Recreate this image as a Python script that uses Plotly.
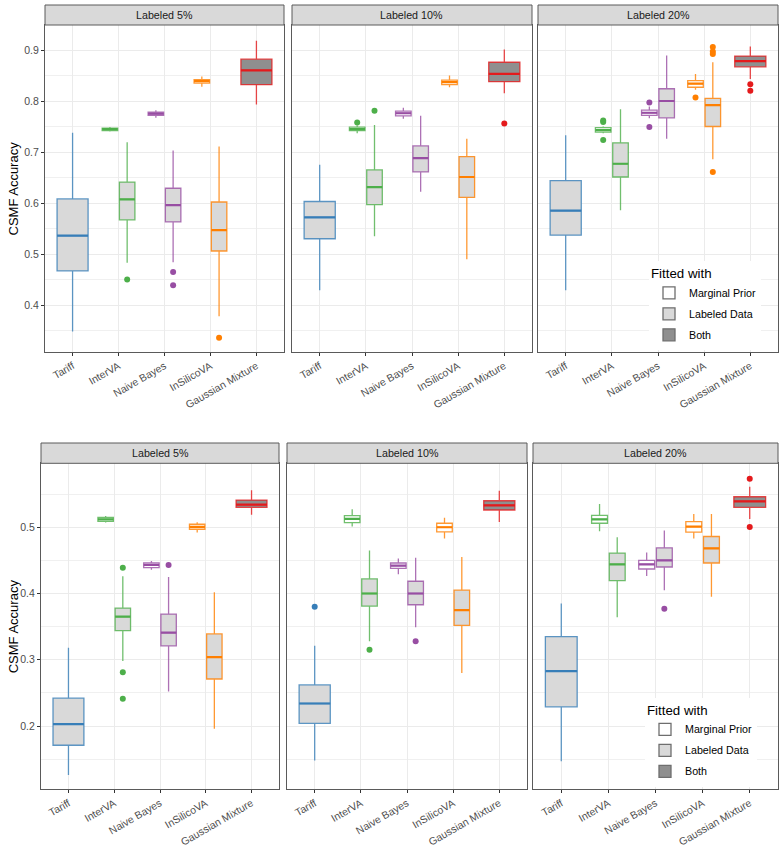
import plotly.graph_objects as go

# ---------------- data ----------------
METHODS = ["Tariff", "InterVA", "Naive Bayes", "InSilicoVA", "Gaussian Mixture"]
METHOD_COLORS = ["#377EB8", "#4DAF4A", "#984EA3", "#FF7F00", "#E41A1C"]
FITS = ["Marginal Prior", "Labeled Data", "Both"]
FIT_FILLS = ["#FFFFFF", "#D9D9D9", "#8F8F8F"]
PANELS = ["Labeled 5%", "Labeled 10%", "Labeled 20%"]
Y_TITLE = "CSMF Accuracy"

# one entry per box, same order in every panel
BOX_METHOD = ["Tariff", "InterVA", "InterVA", "Naive Bayes", "Naive Bayes",
              "InSilicoVA", "InSilicoVA", "Gaussian Mixture"]
BOX_FIT = ["Labeled Data", "Marginal Prior", "Labeled Data", "Marginal Prior",
           "Labeled Data", "Marginal Prior", "Labeled Data", "Both"]

# ---- top row ----
TOP_05_LO  = [0.348, 0.740, 0.483, 0.767, 0.484, 0.828, 0.378, 0.793]
TOP_05_Q1  = [0.467, 0.742, 0.567, 0.772, 0.563, 0.835, 0.506, 0.832]
TOP_05_MED = [0.536, 0.745, 0.607, 0.775, 0.596, 0.839, 0.547, 0.860]
TOP_05_Q3  = [0.608, 0.747, 0.641, 0.778, 0.629, 0.842, 0.602, 0.882]
TOP_05_HI  = [0.738, 0.749, 0.719, 0.782, 0.703, 0.848, 0.711, 0.918]
TOP_05_OUT = [[], [], [0.450], [], [0.465, 0.439], [], [0.336], []]

TOP_10_LO  = [0.429, 0.737, 0.535, 0.765, 0.622, 0.827, 0.490, 0.815]
TOP_10_Q1  = [0.530, 0.742, 0.597, 0.771, 0.661, 0.832, 0.611, 0.838]
TOP_10_MED = [0.572, 0.745, 0.631, 0.776, 0.688, 0.837, 0.651, 0.853]
TOP_10_Q3  = [0.603, 0.749, 0.665, 0.780, 0.712, 0.841, 0.691, 0.876]
TOP_10_HI  = [0.675, 0.752, 0.753, 0.787, 0.771, 0.850, 0.726, 0.901]
TOP_10_OUT = [[], [0.758], [0.781], [], [], [], [], [0.756]]

TOP_20_LO  = [0.429, 0.737, 0.586, 0.766, 0.726, 0.822, 0.686, 0.843]
TOP_20_Q1  = [0.537, 0.739, 0.651, 0.772, 0.767, 0.827, 0.750, 0.867]
TOP_20_MED = [0.585, 0.743, 0.677, 0.777, 0.800, 0.834, 0.792, 0.878]
TOP_20_Q3  = [0.644, 0.748, 0.718, 0.782, 0.824, 0.840, 0.805, 0.888]
TOP_20_HI  = [0.733, 0.750, 0.784, 0.789, 0.889, 0.853, 0.876, 0.907]
TOP_20_OUT = [[], [0.762, 0.759, 0.7235], [], [0.797, 0.749], [], [0.807],
              [0.906, 0.897, 0.892, 0.661], [0.833, 0.820]]

# ---- bottom row ----
BOT_05_LO  = [0.126, 0.507, 0.298, 0.436, 0.252, 0.492, 0.196, 0.519]
BOT_05_Q1  = [0.171, 0.509, 0.344, 0.439, 0.321, 0.497, 0.271, 0.530]
BOT_05_MED = [0.203, 0.512, 0.365, 0.443, 0.341, 0.5005, 0.304, 0.534]
BOT_05_Q3  = [0.242, 0.515, 0.378, 0.446, 0.369, 0.5045, 0.339, 0.541]
BOT_05_HI  = [0.318, 0.517, 0.426, 0.449, 0.425, 0.5075, 0.402, 0.556]
BOT_05_OUT = [[], [], [0.439, 0.281, 0.241], [], [0.443], [], [], []]

BOT_10_LO  = [0.148, 0.501, 0.328, 0.429, 0.349, 0.483, 0.280, 0.508]
BOT_10_Q1  = [0.204, 0.507, 0.381, 0.438, 0.383, 0.493, 0.352, 0.526]
BOT_10_MED = [0.234, 0.5125, 0.400, 0.442, 0.400, 0.500, 0.375, 0.533]
BOT_10_Q3  = [0.262, 0.5175, 0.422, 0.446, 0.4185, 0.506, 0.405, 0.540]
BOT_10_HI  = [0.321, 0.527, 0.465, 0.453, 0.454, 0.5145, 0.455, 0.555]
BOT_10_OUT = [[0.380], [], [0.315], [], [0.328], [], [], []]

BOT_20_LO  = [0.147, 0.494, 0.364, 0.4265, 0.405, 0.483, 0.395, 0.5125]
BOT_20_Q1  = [0.229, 0.506, 0.4195, 0.437, 0.440, 0.4925, 0.446, 0.530]
BOT_20_MED = [0.283, 0.512, 0.444, 0.444, 0.450, 0.501, 0.468, 0.539]
BOT_20_Q3  = [0.335, 0.518, 0.461, 0.450, 0.469, 0.5085, 0.486, 0.546]
BOT_20_HI  = [0.385, 0.535, 0.485, 0.462, 0.495, 0.520, 0.520, 0.561]
BOT_20_OUT = [[], [], [], [], [0.377], [], [], [0.573, 0.5005]]

ROWS = [
    [(TOP_05_LO, TOP_05_Q1, TOP_05_MED, TOP_05_Q3, TOP_05_HI, TOP_05_OUT),
     (TOP_10_LO, TOP_10_Q1, TOP_10_MED, TOP_10_Q3, TOP_10_HI, TOP_10_OUT),
     (TOP_20_LO, TOP_20_Q1, TOP_20_MED, TOP_20_Q3, TOP_20_HI, TOP_20_OUT)],
    [(BOT_05_LO, BOT_05_Q1, BOT_05_MED, BOT_05_Q3, BOT_05_HI, BOT_05_OUT),
     (BOT_10_LO, BOT_10_Q1, BOT_10_MED, BOT_10_Q3, BOT_10_HI, BOT_10_OUT),
     (BOT_20_LO, BOT_20_Q1, BOT_20_MED, BOT_20_Q3, BOT_20_HI, BOT_20_OUT)],
]

# ---------------- layout geometry (pixels) ----------------
W, H = 782, 848
FONT = "Liberation Sans, Arial, Helvetica, sans-serif"
PANEL_X = [[(45, 284), (292, 532), (538, 778)],
           [(41, 279), (287, 527), (533, 778)]]
PANEL_Y = [(25, 352), (463.3, 789.3)]
STRIP_Y = [(5, 25), (443, 463.3)]
Y_RANGES = [[0.308, 0.949], [0.1045, 0.5965]]
LEGEND_POS = [(649, 261), (645, 697.5)]

BOX_WIDTH = 0.75
DODGE_PAD = 0.1


def px_x(x):
    return x / W


def px_y(y):
    return 1 - y / H


def rgba(hexc, a):
    h = hexc.lstrip("#")
    return "rgba(%d,%d,%d,%.2f)" % (int(h[0:2], 16), int(h[2:4], 16), int(h[4:6], 16), a)


# dodge positions (like ggplot position_dodge2)
positions, widths = [], []
for i, m in enumerate(BOX_METHOD):
    grp = [j for j, mm in enumerate(BOX_METHOD) if mm == m]
    n = len(grp)
    k = grp.index(i)
    slot = BOX_WIDTH / n
    positions.append(METHODS.index(m) + 1 - BOX_WIDTH / 2 + slot * (k + 0.5))
    widths.append(slot * (1 - DODGE_PAD))

fig = go.Figure()
layout = dict(
    width=W, height=H, margin=dict(l=0, r=0, t=0, b=0),
    paper_bgcolor="white", plot_bgcolor="white",
    font=dict(family=FONT, color="#1A1A1A"),
    boxmode="overlay", showlegend=True,
)
shapes, annotations = [], []

for r, row in enumerate(ROWS):
    for c, stats in enumerate(row):
        idx = r * 3 + c + 1
        xa = "x" if idx == 1 else "x%d" % idx
        ya = "y" if idx == 1 else "y%d" % idx
        lo, q1, med, q3, hi, out = stats
        for i in range(len(BOX_METHOD)):
            col = METHOD_COLORS[METHODS.index(BOX_METHOD[i])]
            fill = FIT_FILLS[FITS.index(BOX_FIT[i])]
            fig.add_trace(go.Box(
                x=[positions[i]], q1=[q1[i]], median=[med[i]], q3=[q3[i]],
                lowerfence=[lo[i]], upperfence=[hi[i]], width=widths[i],
                fillcolor=fill, line=dict(color=rgba(col, 0.8), width=1.3),
                whiskerwidth=0, boxpoints=False, showlegend=False,
                hoverinfo="skip", xaxis=xa, yaxis=ya))
            # thicker median line
            fig.add_trace(go.Box(
                x=[positions[i]], q1=[med[i]], median=[med[i]], q3=[med[i]],
                lowerfence=[med[i]], upperfence=[med[i]], width=widths[i],
                fillcolor="rgba(0,0,0,0)", line=dict(color=col, width=2.2),
                whiskerwidth=0, boxpoints=False, showlegend=False,
                hoverinfo="skip", xaxis=xa, yaxis=ya))
            if out[i]:
                fig.add_trace(go.Scatter(
                    x=[positions[i]] * len(out[i]), y=out[i], mode="markers",
                    marker=dict(color=col, size=6), showlegend=False,
                    hoverinfo="skip", xaxis=xa, yaxis=ya))

        x0, x1 = PANEL_X[r][c]
        y0, y1 = PANEL_Y[r]
        layout["xaxis" if idx == 1 else "xaxis%d" % idx] = dict(
            domain=[px_x(x0), px_x(x1)], anchor=ya, range=[0.4, 5.6],
            tickmode="array", tickvals=list(range(1, len(METHODS) + 1)), ticktext=METHODS,
            tickangle=-30, tickfont=dict(size=10.5, color="#4D4D4D", family=FONT),
            showgrid=True, gridcolor="#EBEBEB", gridwidth=1, zeroline=False,
            showline=True, mirror=True, linecolor="#5A5A5A", linewidth=1,
            ticks="outside", ticklen=3, tickcolor="#333333", automargin=False,
            fixedrange=True)
        layout["yaxis" if idx == 1 else "yaxis%d" % idx] = dict(
            domain=[px_y(y1), px_y(y0)], anchor=xa, range=Y_RANGES[r],
            tickmode="linear", tick0=0, dtick=0.1, tickformat=".1f",
            tickfont=dict(size=10.5, color="#4D4D4D", family=FONT),
            showticklabels=(c == 0), ticks="outside" if c == 0 else "",
            ticklen=3, tickcolor="#333333",
            showgrid=True, gridcolor="#EBEBEB", gridwidth=1, zeroline=False,
            minor=dict(dtick=0.05, tick0=0, showgrid=True, gridcolor="#F0F0F0", gridwidth=0.6),
            showline=True, mirror=True, linecolor="#5A5A5A", linewidth=1,
            automargin=False, fixedrange=True)
        # strip
        sy0, sy1 = STRIP_Y[r]
        shapes.append(dict(type="rect", xref="paper", yref="paper",
                           x0=px_x(x0), x1=px_x(x1), y0=px_y(sy1), y1=px_y(sy0),
                           fillcolor="#D9D9D9", line=dict(color="#5A5A5A", width=1)))
        annotations.append(dict(text=PANELS[c], xref="paper", yref="paper",
                                x=px_x((x0 + x1) / 2), y=px_y((sy0 + sy1) / 2),
                                xanchor="center", yanchor="middle", showarrow=False,
                                font=dict(size=10.7, color="#1A1A1A", family=FONT)))
    # y-axis title
    y0, y1 = PANEL_Y[r]
    annotations.append(dict(text=Y_TITLE, xref="paper", yref="paper",
                            x=px_x(13), y=px_y((y0 + y1) / 2), textangle=-90,
                            xanchor="center", yanchor="middle", showarrow=False,
                            font=dict(size=13, color="black", family=FONT)))

# legend keys
for r in range(2):
    leg = "legend" if r == 0 else "legend2"
    idx = r * 3 + 3
    for f, fill in zip(FITS, FIT_FILLS):
        fig.add_trace(go.Box(
            x=[None], y=[None], name=f, fillcolor=fill,
            line=dict(color="#6E6E6E", width=1.3), legend=leg,
            legendgroup="%s_%s" % (leg, f), showlegend=True,
            xaxis="x%d" % idx, yaxis="y%d" % idx))
    lx, ly = LEGEND_POS[r]
    layout[leg] = dict(
        x=px_x(lx), y=px_y(ly), xanchor="left", yanchor="top",
        bgcolor="white", borderwidth=0, tracegroupgap=2,
        title=dict(text="Fitted with", font=dict(size=13.3, color="black", family=FONT)),
        font=dict(size=10.7, color="black", family=FONT))

layout["shapes"] = shapes
layout["annotations"] = annotations
fig.update_layout(**layout)
fig.write_html("out.html", config={"displayModeBar": False},
               post_script="document.body.style.margin='0px';document.body.style.overflow='hidden';")
